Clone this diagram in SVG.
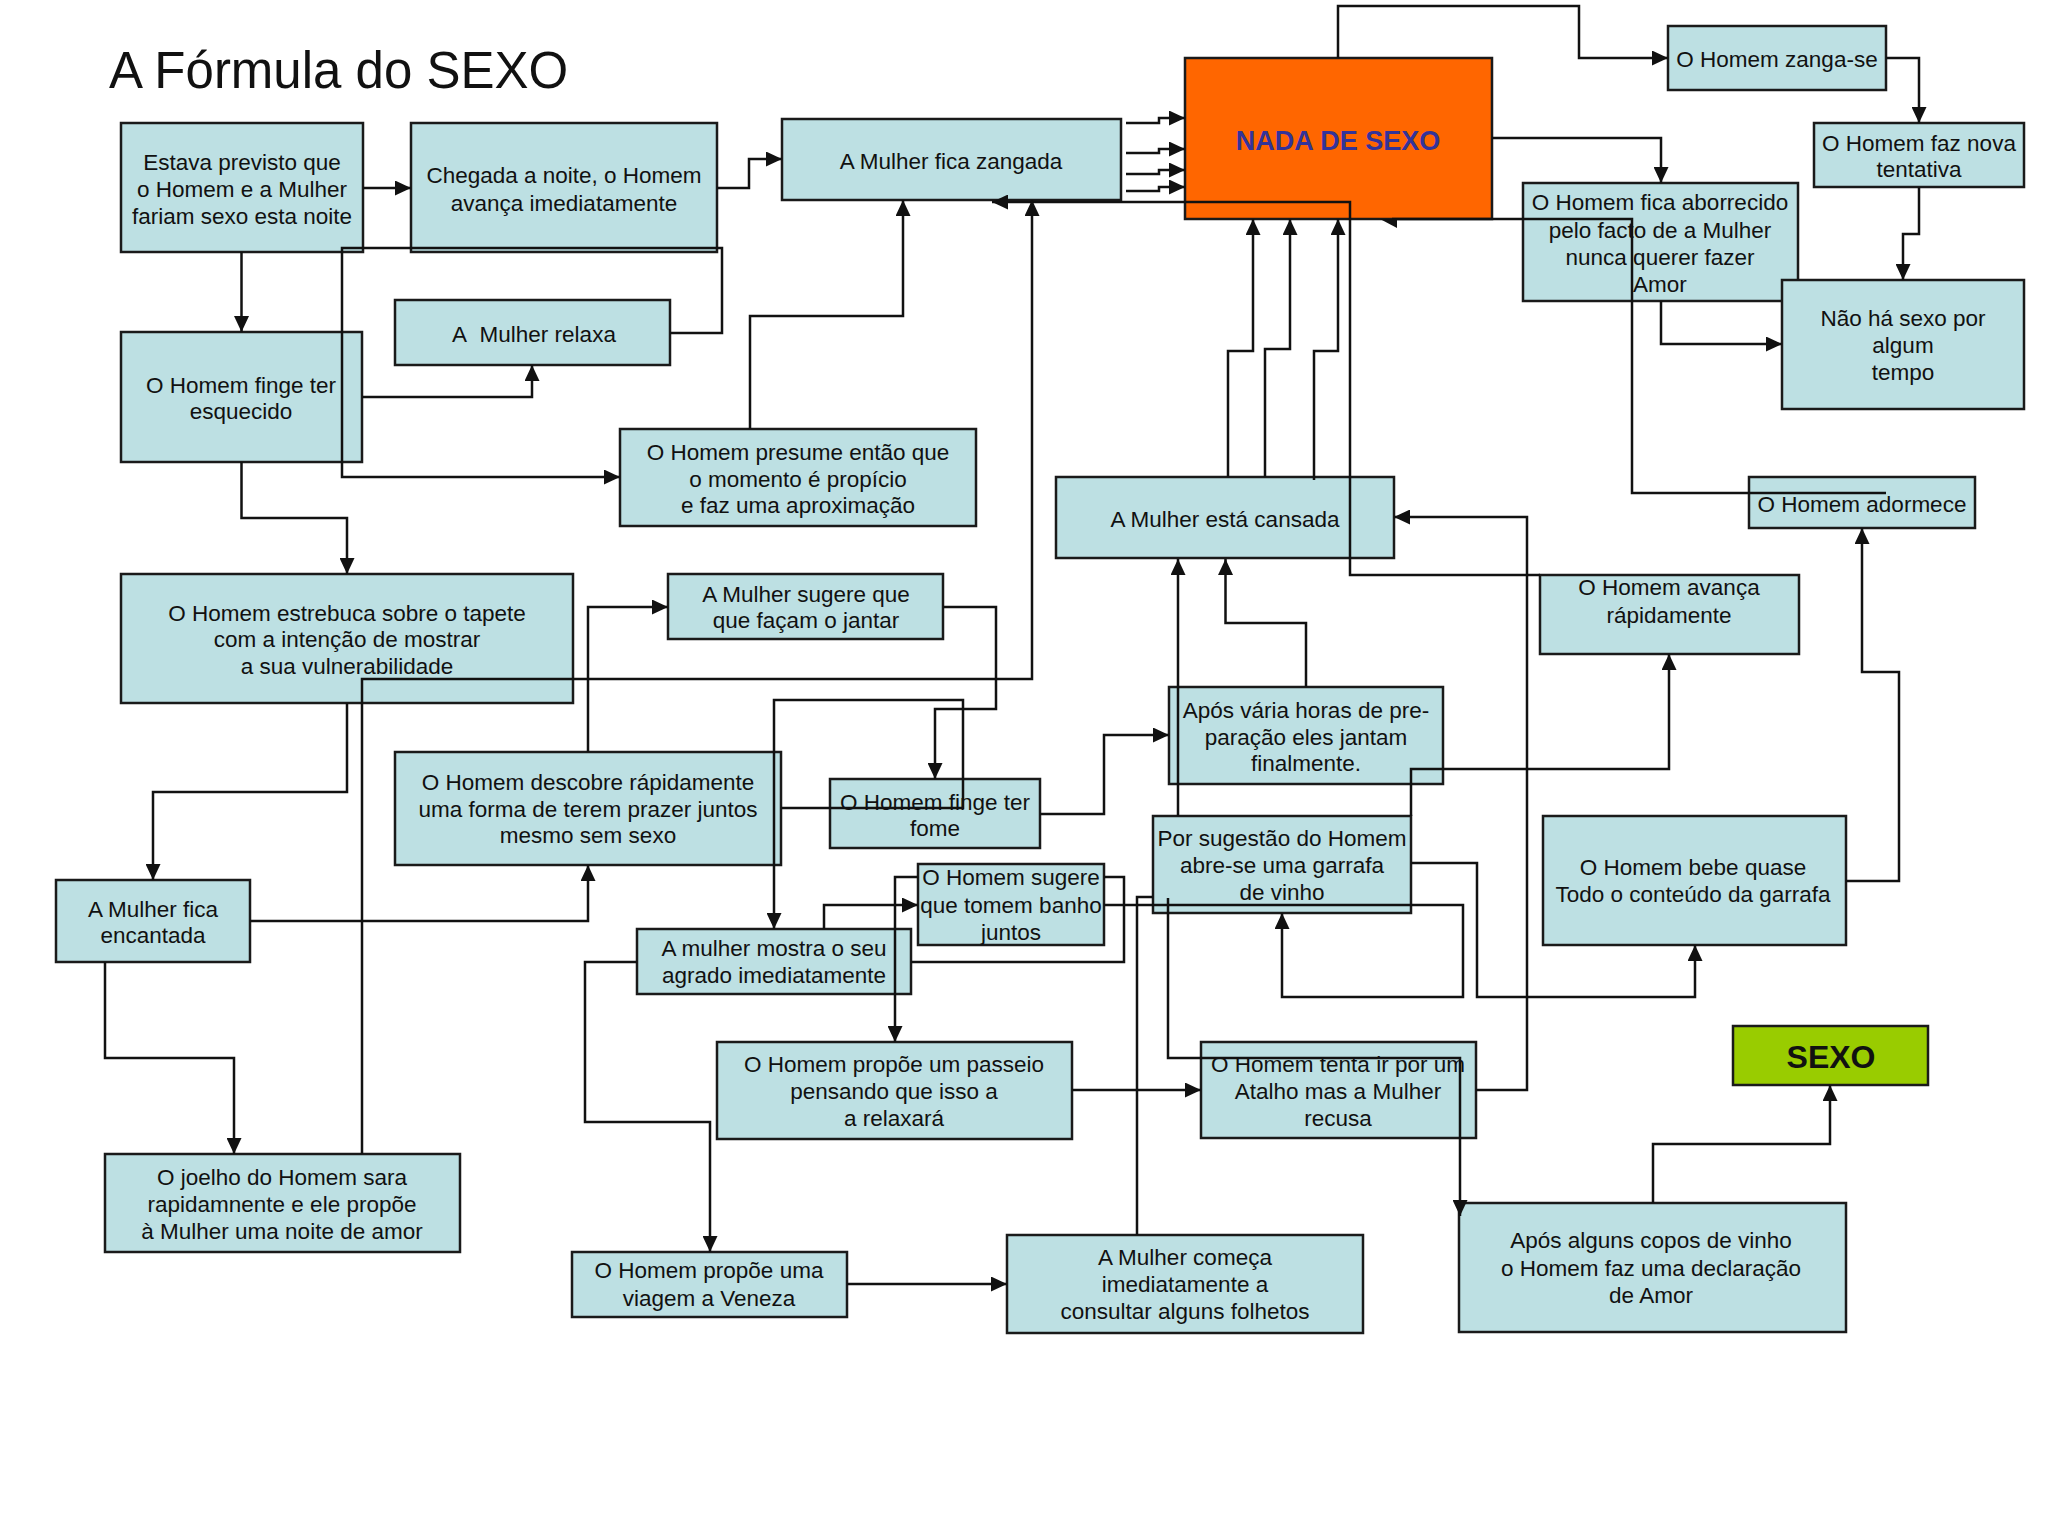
<svg xmlns="http://www.w3.org/2000/svg" width="2048" height="1536" viewBox="0 0 2048 1536">
<defs>
<style>
.b{fill:#BDE0E3;stroke:#1a1a1a;stroke-width:2.5}
.t{font-family:"Liberation Sans",Arial,sans-serif;font-size:22.5px;fill:#111;text-anchor:middle}
.c path{fill:none;stroke:#111;stroke-width:2.5}
.c path.a{marker-end:url(#ah)}
</style>
<marker id="ah" markerUnits="userSpaceOnUse" markerWidth="16" markerHeight="15" refX="16" refY="7.5" orient="auto"><path d="M0,0 L16,7.5 L0,15 z" fill="#111"/></marker>
</defs>
<rect width="2048" height="1536" fill="#fff"/>
<text x="109" y="88" style="font-family:'Liberation Sans',Arial,sans-serif;font-size:51px;fill:#111">A Fórmula do SEXO</text>

<g id="n1"><rect class="b" x="121" y="123" width="242" height="129"/><text class="t"><tspan x="242" y="170">Estava previsto que</tspan><tspan x="242" y="197">o Homem e a Mulher</tspan><tspan x="242" y="224">fariam sexo esta noite</tspan></text></g>
<g id="n2"><rect class="b" x="411" y="123" width="306" height="129"/><text class="t"><tspan x="564" y="183">Chegada a noite, o Homem</tspan><tspan x="564" y="211">avança imediatamente</tspan></text></g>
<g id="n3"><rect class="b" x="782" y="119" width="339" height="81"/><text class="t"><tspan x="951" y="169">A Mulher fica zangada</tspan></text></g>
<g id="n4"><rect x="1185" y="58" width="307" height="161" fill="#FF6600" stroke="#1a1a1a" stroke-width="2.5"/><text x="1338" y="150" style="font-family:'Liberation Sans',Arial,sans-serif;font-size:27px;font-weight:bold;fill:#333399;text-anchor:middle">NADA DE SEXO</text></g>
<g id="n5"><rect class="b" x="1668" y="26" width="218" height="64"/><text class="t"><tspan x="1777" y="67">O Homem zanga-se</tspan></text></g>
<g id="n6"><rect class="b" x="1814" y="123" width="210" height="64"/><text class="t"><tspan x="1919" y="151">O Homem faz nova</tspan><tspan x="1919" y="177">tentativa</tspan></text></g>
<g id="n7"><rect class="b" x="1523" y="183" width="275" height="118"/><text class="t"><tspan x="1660" y="210">O Homem fica aborrecido</tspan><tspan x="1660" y="238">pelo facto de a Mulher</tspan><tspan x="1660" y="265">nunca querer fazer</tspan><tspan x="1660" y="292">Amor</tspan></text></g>
<g id="n8"><rect class="b" x="1782" y="280" width="242" height="129"/><text class="t"><tspan x="1903" y="326">Não há sexo por</tspan><tspan x="1903" y="353">algum</tspan><tspan x="1903" y="380">tempo</tspan></text></g>
<g id="n9"><rect class="b" x="395" y="300" width="275" height="65"/><text class="t"><tspan x="534" y="342">A&#160; Mulher relaxa</tspan></text></g>
<g id="n10"><rect class="b" x="121" y="332" width="241" height="130"/><text class="t"><tspan x="241" y="393">O Homem finge ter</tspan><tspan x="241" y="419">esquecido</tspan></text></g>
<g id="n11"><rect class="b" x="620" y="429" width="356" height="97"/><text class="t"><tspan x="798" y="460">O Homem presume então que</tspan><tspan x="798" y="487">o momento é propício</tspan><tspan x="798" y="513">e faz uma aproximação</tspan></text></g>
<g id="n12"><rect class="b" x="1056" y="477" width="338" height="81"/><text class="t"><tspan x="1225" y="527">A Mulher está cansada</tspan></text></g>
<g id="n13"><rect class="b" x="1749" y="477" width="226" height="51"/><text class="t"><tspan x="1862" y="512">O Homem adormece</tspan></text></g>
<g id="n14"><rect class="b" x="121" y="574" width="452" height="129"/><text class="t"><tspan x="347" y="621">O Homem estrebuca sobre o tapete</tspan><tspan x="347" y="647">com a intenção de mostrar</tspan><tspan x="347" y="674">a sua vulnerabilidade</tspan></text></g>
<g id="n15"><rect class="b" x="668" y="574" width="275" height="65"/><text class="t"><tspan x="806" y="602">A Mulher sugere que</tspan><tspan x="806" y="628">que façam o jantar</tspan></text></g>
<g id="n16"><rect class="b" x="1540" y="575" width="259" height="79"/><text class="t"><tspan x="1669" y="595">O Homem avança</tspan><tspan x="1669" y="623">rápidamente</tspan></text></g>
<g id="n17"><rect class="b" x="1169" y="687" width="274" height="97"/><text class="t"><tspan x="1306" y="718">Após vária horas de pre-</tspan><tspan x="1306" y="745">paração eles jantam</tspan><tspan x="1306" y="771">finalmente.</tspan></text></g>
<g id="n18"><rect class="b" x="395" y="752" width="386" height="113"/><text class="t"><tspan x="588" y="790">O Homem descobre rápidamente</tspan><tspan x="588" y="817">uma forma de terem prazer juntos</tspan><tspan x="588" y="843">mesmo sem sexo</tspan></text></g>
<g id="n19"><rect class="b" x="830" y="779" width="210" height="69"/><text class="t"><tspan x="935" y="810">O Homem finge ter</tspan><tspan x="935" y="836">fome</tspan></text></g>
<g id="n20"><rect class="b" x="1153" y="816" width="258" height="97"/><text class="t"><tspan x="1282" y="846">Por sugestão do Homem</tspan><tspan x="1282" y="873">abre-se uma garrafa</tspan><tspan x="1282" y="900">de vinho</tspan></text></g>
<g id="n21"><rect class="b" x="1543" y="816" width="303" height="129"/><text class="t"><tspan x="1693" y="875">O Homem bebe quase</tspan><tspan x="1693" y="902">Todo o conteúdo da garrafa</tspan></text></g>
<g id="n22"><rect class="b" x="56" y="880" width="194" height="82"/><text class="t"><tspan x="153" y="917">A Mulher fica</tspan><tspan x="153" y="943">encantada</tspan></text></g>
<g id="n23"><rect class="b" x="918" y="864" width="186" height="81"/><text class="t"><tspan x="1011" y="885">O Homem sugere</tspan><tspan x="1011" y="913">que tomem banho</tspan><tspan x="1011" y="940">juntos</tspan></text></g>
<g id="n24"><rect class="b" x="637" y="929" width="274" height="65"/><text class="t"><tspan x="774" y="956">A mulher mostra o seu</tspan><tspan x="774" y="983">agrado imediatamente</tspan></text></g>
<g id="n25"><rect x="1733" y="1026" width="195" height="59" fill="#99CC00" stroke="#1a1a1a" stroke-width="2.5"/><text x="1831" y="1068" style="font-family:'Liberation Sans',Arial,sans-serif;font-size:32px;font-weight:bold;fill:#111;text-anchor:middle">SEXO</text></g>
<g id="n26"><rect class="b" x="717" y="1042" width="355" height="97"/><text class="t"><tspan x="894" y="1072">O Homem propõe um passeio</tspan><tspan x="894" y="1099">pensando que isso a</tspan><tspan x="894" y="1126">a relaxará</tspan></text></g>
<g id="n27"><rect class="b" x="1201" y="1042" width="275" height="96"/><text class="t"><tspan x="1338" y="1072">O Homem tenta ir por um</tspan><tspan x="1338" y="1099">Atalho mas a Mulher</tspan><tspan x="1338" y="1126">recusa</tspan></text></g>
<g id="n28"><rect class="b" x="105" y="1154" width="355" height="98"/><text class="t"><tspan x="282" y="1185">O joelho do Homem sara</tspan><tspan x="282" y="1212">rapidamnente e ele propõe</tspan><tspan x="282" y="1239">à Mulher uma noite de amor</tspan></text></g>
<g id="n29"><rect class="b" x="1459" y="1203" width="387" height="129"/><text class="t"><tspan x="1651" y="1248">Após alguns copos de vinho</tspan><tspan x="1651" y="1276">o Homem faz uma declaração</tspan><tspan x="1651" y="1303">de Amor</tspan></text></g>
<g id="n30"><rect class="b" x="1007" y="1235" width="356" height="98"/><text class="t"><tspan x="1185" y="1265">A Mulher começa</tspan><tspan x="1185" y="1292">imediatamente a</tspan><tspan x="1185" y="1319">consultar alguns folhetos</tspan></text></g>
<g id="n31"><rect class="b" x="572" y="1252" width="275" height="65"/><text class="t"><tspan x="709" y="1278">O Homem propõe uma</tspan><tspan x="709" y="1306">viagem a Veneza</tspan></text></g>

<g id="connectors" class="c">
<path class="a" d="M363,188 H411"/>
<path class="a" d="M241.5,252 V332"/>
<path class="a" d="M717,188 H749 V159 H782"/>
<path class="a" d="M362,397 H532 V365"/>
<path class="a" d="M670,333 H722 V248 H342 V477 H620"/>
<path class="a" d="M750,429 V316 H903 V200"/>
<path class="a" d="M241.5,462 V518 H347 V574"/>
<path class="a" d="M1126,123 H1159 V118 H1185"/>
<path class="a" d="M1126,153 H1159 V149 H1185"/>
<path class="a" d="M1126,174 H1159 V170 H1185"/>
<path class="a" d="M1126,191 H1159 V187 H1185"/>
<path class="a" d="M1338,58 V6 H1579 V58 H1668"/>
<path class="a" d="M1886,58 H1919 V123"/>
<path class="a" d="M1919,187 V234 H1903 V280"/>
<path class="a" d="M1492,138 H1661 V183"/>
<path class="a" d="M1661,301 V344 H1782"/>
<path d="M1886,493 H1632 V219 H1392"/>
<polygon points="1380,219 1397,219 1397,228" fill="#111"/>
<path class="a" d="M1540,575 H1350 V202 H992"/>
<path class="a" d="M1228,477 V351 H1253 V219"/>
<path class="a" d="M1265,477 V349 H1290 V219"/>
<path class="a" d="M1314,480 V351 H1338 V219"/>
<path class="a" d="M1476,1090 H1527 V517 H1394"/>
<path class="a" d="M1306,687 V623 H1225.5 V559"/>
<path class="a" d="M1178,816 V559"/>
<path class="a" d="M1411,816 V769 H1669 V654"/>
<path class="a" d="M1040,814 H1104 V735 H1169"/>
<path class="a" d="M943,607 H996 V709 H935 V779"/>
<path class="a" d="M588,752 V607 H668"/>
<path class="a" d="M250,921 H588 V865"/>
<path class="a" d="M347,703 V792 H153 V880"/>
<path class="a" d="M105,962 V1058 H234 V1154"/>
<path class="a" d="M362,1154 V679 H1032 V200"/>
<path class="a" d="M781,808 H963 V700 H774 V929"/>
<path class="a" d="M824,929 V905 H918"/>
<path class="a" d="M918,877 H895 V1042"/>
<path d="M911,962 H1124 V877 H1104"/>
<path class="a" d="M1104,905 H1463 V997 H1282 V913"/>
<path class="a" d="M1411,863 H1477 V997 H1695 V945"/>
<path class="a" d="M1846,881 H1899 V672 H1862 V528"/>
<path class="a" d="M1072,1090 H1201"/>
<path class="a" d="M1168,898 V1058 H1460 V1216"/>
<path d="M1137,1235 V897 H1153"/>
<path class="a" d="M637,962 H585 V1122 H710 V1252"/>
<path class="a" d="M847,1284 H1007"/>
<path class="a" d="M1653,1203 V1144 H1830 V1085"/>
</g>
</svg>
